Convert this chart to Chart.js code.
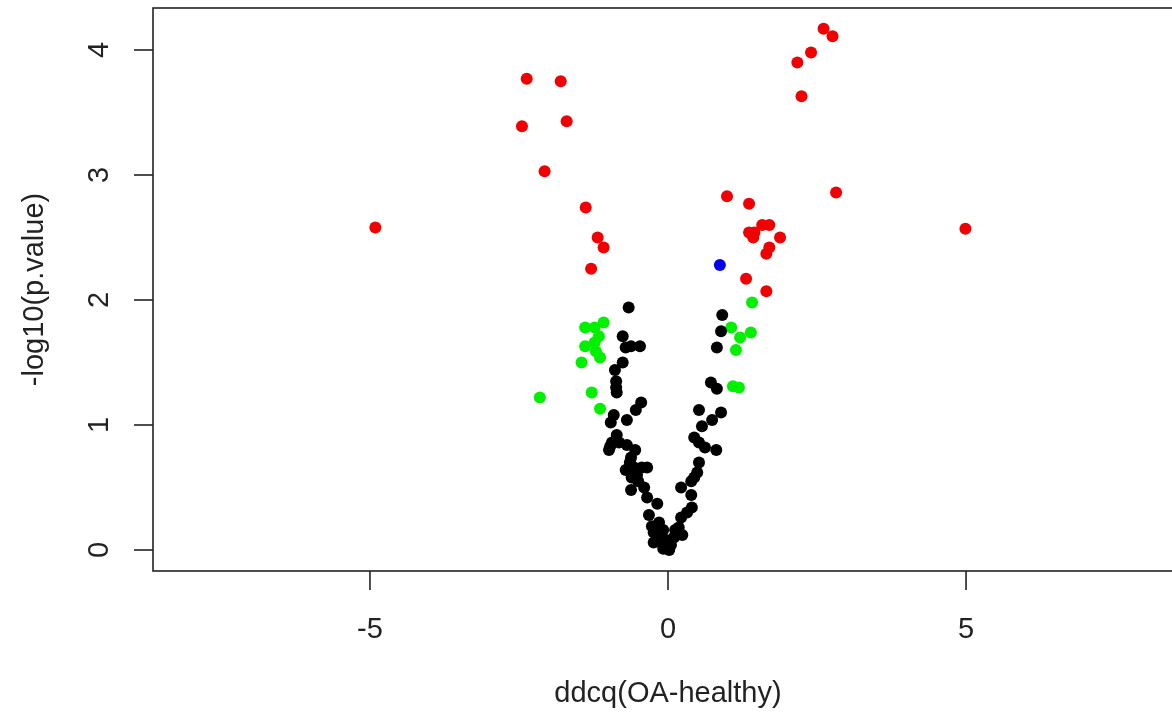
<!DOCTYPE html>
<html>
<head>
<meta charset="utf-8">
<script src="https://cdn.jsdelivr.net/npm/chart.js@4/dist/chart.umd.min.js"></script>
<style>
  html, body { margin: 0; padding: 0; background: #fff; overflow: hidden; }
  #wrap { width: 1172px; height: 714px; overflow: hidden; position: relative; }
  #box { width: 1200px; height: 714px; }
</style>
</head>
<body>
<div id="wrap"><div id="box"><canvas id="volcano"></canvas></div></div>
<script>
(function () {
  // axis ranges (R style: data range + 4%)
  var X_MIN = -8.64, X_MAX = 8.64;
  var Y_MIN = -0.168, Y_MAX = 4.336;
  var xTicks = [-5, 0, 5];
  var yTicks = [0, 1, 2, 3, 4];
  var xTitle = 'ddcq(OA-healthy)';
  var yTitle = '-log10(p.value)';

  // significant, large change
  var redX = [-4.91, -2.37, -1.80, -2.45, -1.70, -2.07, -1.38, -1.18, -1.08, -1.29,
              2.61, 2.76, 2.40, 2.17, 2.24, 0.99, 2.82, 1.36, 1.36, 1.45, 1.43, 1.58, 1.70,
              1.88, 1.70, 1.65, 1.31, 1.65, 4.99];
  var redY = [2.58, 3.77, 3.75, 3.39, 3.43, 3.03, 2.74, 2.50, 2.42, 2.25,
              4.17, 4.11, 3.98, 3.90, 3.63, 2.83, 2.86, 2.77, 2.54, 2.54, 2.50, 2.60, 2.60,
              2.50, 2.42, 2.37, 2.17, 2.07, 2.57];

  var blueX = [0.87];
  var blueY = [2.28];

  var greenX = [-1.08, -1.39, -1.23, -1.16, -1.23, -1.39, -1.21, -1.14, -1.45, -1.28, -2.15, -1.14,
                1.41, 1.06, 1.21, 1.39, 1.14, 1.09, 1.19];
  var greenY = [1.82, 1.78, 1.78, 1.71, 1.66, 1.63, 1.59, 1.54, 1.50, 1.26, 1.22, 1.13,
                1.98, 1.78, 1.70, 1.74, 1.60, 1.31, 1.30];

  var blackX = [-0.66, -0.76, -0.71, -0.62, -0.47, -0.76, -0.89, -0.87, -0.87, -0.86,
                -0.45, -0.54, -0.69, -0.91, -0.96, -0.86, -0.94, -0.99, -0.82, -0.69,
                -0.55, -0.62, -0.71, -0.57, -0.44, -0.35, -0.52, -0.61, -0.62, -0.40,
                -0.35, -0.18, -0.32, -0.27, -0.24, -0.24, -0.12, -0.02, -0.03, -0.15,
                -0.15, -0.08, -0.97, -0.64, -0.50,
                0.91, 0.89, 0.82, 0.72, 0.82, 0.52, 0.89, 0.74, 0.57, 0.44,
                0.52, 0.62, 0.81, 0.52, 0.49, 0.44, 0.39, 0.22, 0.39, 0.40,
                0.32, 0.22, 0.18, 0.10, 0.24, 0.05, -0.08, 0.12, 0.02];
  var blackY = [1.94, 1.71, 1.62, 1.63, 1.63, 1.50, 1.44, 1.35, 1.30, 1.26,
                1.18, 1.12, 1.04, 1.08, 1.02, 0.92, 0.86, 0.80, 0.86, 0.84,
                0.80, 0.74, 0.64, 0.66, 0.66, 0.66, 0.60, 0.58, 0.48, 0.50,
                0.42, 0.37, 0.28, 0.19, 0.14, 0.06, 0.06, 0.02, 0.08, 0.22,
                0.14, 0.16, 0.83, 0.70, 0.55,
                1.88, 1.75, 1.62, 1.34, 1.29, 1.12, 1.10, 1.04, 0.99, 0.90,
                0.86, 0.82, 0.80, 0.70, 0.62, 0.58, 0.55, 0.50, 0.44, 0.34,
                0.30, 0.26, 0.18, 0.10, 0.12, 0.04, 0.01, 0.16, 0.00];

  function pts(xs, ys) {
    return xs.map(function (x, i) { return { x: x, y: ys[i] }; });
  }

  var FONT = '"Liberation Sans", Arial, Helvetica, sans-serif';
  var INK = '#222';

  // R-like frame, outward ticks, rotated y labels
  var rAxesPlugin = {
    id: 'rAxes',
    afterDraw: function (chart) {
      var a = chart.chartArea;
      var xs = chart.scales.x, ys = chart.scales.y;
      var ctx = chart.ctx;
      ctx.save();
      ctx.strokeStyle = INK;
      ctx.lineWidth = 1.6;
      ctx.strokeRect(a.left, a.top, a.right - a.left, a.bottom - a.top);

      ctx.fillStyle = INK;
      ctx.font = '29px ' + FONT;
      ctx.textAlign = 'center';
      ctx.textBaseline = 'middle';

      xTicks.forEach(function (v) {
        var px = xs.getPixelForValue(v);
        ctx.beginPath();
        ctx.moveTo(px, a.bottom);
        ctx.lineTo(px, a.bottom + 19);
        ctx.stroke();
        ctx.fillText(String(v), px, 630);
      });

      yTicks.forEach(function (v) {
        var py = ys.getPixelForValue(v);
        ctx.beginPath();
        ctx.moveTo(a.left, py);
        ctx.lineTo(a.left - 19, py);
        ctx.stroke();
        ctx.save();
        ctx.translate(100, py);
        ctx.rotate(-Math.PI / 2);
        ctx.fillText(String(v), 0, 0);
        ctx.restore();
      });

      ctx.fillText(xTitle, (a.left + a.right) / 2, 694);
      ctx.save();
      ctx.translate(35, (a.top + a.bottom) / 2);
      ctx.rotate(-Math.PI / 2);
      ctx.fillText(yTitle, 0, 0);
      ctx.restore();
      ctx.restore();
    }
  };

  function series(label, data, color) {
    return {
      label: label,
      data: data,
      backgroundColor: color,
      borderColor: color,
      borderWidth: 0,
      pointRadius: 6,
      pointHoverRadius: 6,
    };
  }

  new Chart(document.getElementById('volcano'), {
    type: 'scatter',
    plugins: [rAxesPlugin],
    data: {
      datasets: [
        series('not significant', pts(blackX, blackY), '#000000'),
        series('significant', pts(greenX, greenY), '#00f000'),
        series('large change', pts(redX, redY), '#f00000'),
        series('other', pts(blueX, blueY), '#0000f0'),
      ],
    },
    options: {
      responsive: true,
      maintainAspectRatio: false,
      animation: false,
      layout: { padding: { left: 153, top: 8, right: 17, bottom: 143 } },
      plugins: { legend: { display: false }, tooltip: { enabled: false } },
      scales: {
        x: { type: 'linear', min: X_MIN, max: X_MAX, display: false },
        y: { type: 'linear', min: Y_MIN, max: Y_MAX, display: false },
      },
    },
  });
})();
</script>
</body>
</html>
